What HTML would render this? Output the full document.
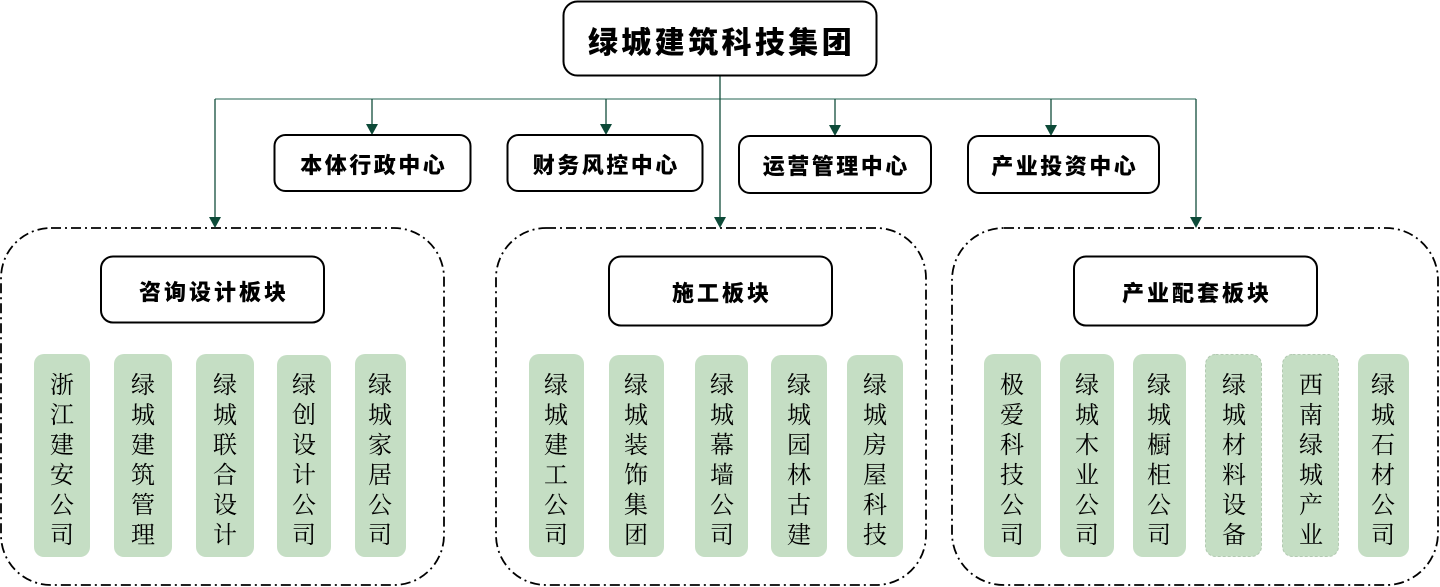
<!DOCTYPE html>
<html><head><meta charset="utf-8">
<style>
html,body{margin:0;padding:0;background:#fff;}
body{width:1440px;height:587px;position:relative;overflow:hidden;}
svg{position:absolute;left:0;top:0;}
.t{position:absolute;display:flex;align-items:center;justify-content:center;font-family:"Liberation Sans","Noto Sans CJK SC",sans-serif;font-weight:900;color:#000;white-space:nowrap;}
.v{position:absolute;width:24px;font-family:"Noto Serif CJK SC","Noto Serif CJK SC","Liberation Serif",serif;font-size:24px;line-height:30px;color:#000;text-align:center;word-break:break-all;}
</style></head><body>
<svg width="1440" height="587" viewBox="0 0 1440 587">
  <g fill="none" stroke="#000" stroke-width="1.8" stroke-dasharray="10 4 2 4">
    <rect x="1" y="228" width="443" height="357" rx="50" ry="50"/>
    <rect x="496" y="228" width="430" height="357" rx="50" ry="50"/>
    <rect x="952" y="228" width="486" height="357" rx="52" ry="52"/>
  </g>
  <g stroke="#134d3c" stroke-width="1.3" fill="none">
    <line x1="215" y1="99" x2="1196" y2="99" stroke="#4f8273"/>
    <line x1="720" y1="76" x2="720" y2="218"/>
    <line x1="215" y1="99" x2="215" y2="218"/>
    <line x1="1196" y1="99" x2="1196" y2="218"/>
    <line x1="372" y1="99" x2="372" y2="125"/>
    <line x1="606" y1="99" x2="606" y2="125"/>
    <line x1="835" y1="99" x2="835" y2="126"/>
    <line x1="1051" y1="99" x2="1051" y2="126"/>
  </g>
  <g fill="#0d4a38">
    <polygon points="366,124 378,124 372,135"/>
    <polygon points="600,124 612,124 606,135"/>
    <polygon points="829,125 841,125 835,136"/>
    <polygon points="1045,125 1057,125 1051,136"/>
    <polygon points="209,217 221,217 215,228"/>
    <polygon points="714,217 726,217 720,228"/>
    <polygon points="1190,217 1202,217 1196,228"/>
  </g>
  <g fill="#fff" stroke="#000" stroke-width="2">
    <rect x="563.5" y="1.5" width="313" height="74" rx="14"/>
    <rect x="274.5" y="135" width="196" height="56" rx="11"/>
    <rect x="507.5" y="135" width="195" height="56" rx="11"/>
    <rect x="739" y="136" width="192" height="57" rx="11"/>
    <rect x="968" y="136" width="191" height="57" rx="11"/>
    <rect x="101" y="256.5" width="223" height="66" rx="12"/>
    <rect x="609" y="256.5" width="223" height="69" rx="12"/>
    <rect x="1074" y="256.5" width="243" height="69" rx="12"/>
  </g>
  <g fill="#c5dec4">
    <rect x="34" y="354" width="56" height="203" rx="10"/>
    <rect x="114" y="354" width="58" height="203" rx="10"/>
    <rect x="196" y="354" width="58" height="203" rx="10"/>
    <rect x="277" y="355" width="54" height="202" rx="10"/>
    <rect x="355" y="354" width="51" height="203" rx="10"/>
    <rect x="529" y="354" width="55" height="203" rx="10"/>
    <rect x="609" y="355" width="55" height="202" rx="10"/>
    <rect x="695" y="355" width="53" height="202" rx="10"/>
    <rect x="771" y="355" width="56" height="202" rx="10"/>
    <rect x="847" y="355" width="56" height="202" rx="10"/>
    <rect x="984" y="354" width="57" height="203" rx="10"/>
    <rect x="1060" y="354" width="54" height="203" rx="10"/>
    <rect x="1133" y="354" width="53" height="203" rx="10"/>
    <rect x="1205.5" y="354.5" width="56" height="202" rx="10" stroke="#b2cab1" stroke-width="1" stroke-dasharray="3 2"/>
    <rect x="1282.5" y="354.5" width="56" height="202" rx="10" stroke="#b2cab1" stroke-width="1" stroke-dasharray="3 2"/>
    <rect x="1358" y="354" width="51" height="203" rx="10"/>
  </g>
</svg>

<div class="t" style="left:563px;top:2px;width:314px;height:76px;font-size:30px;letter-spacing:3.4px;padding-left:3px;box-sizing:border-box;">绿城建筑科技集团</div>

<div class="t" style="left:274px;top:135px;width:197px;height:58px;font-size:22px;letter-spacing:2.5px;padding-left:2.5px;box-sizing:border-box;">本体行政中心</div>
<div class="t" style="left:507px;top:135px;width:196px;height:58px;font-size:22px;letter-spacing:2.5px;padding-left:2.5px;box-sizing:border-box;">财务风控中心</div>
<div class="t" style="left:739px;top:136px;width:192px;height:58px;font-size:22px;letter-spacing:2.5px;padding-left:2.5px;box-sizing:border-box;">运营管理中心</div>
<div class="t" style="left:968px;top:136px;width:191px;height:58px;font-size:22px;letter-spacing:2.5px;padding-left:2.5px;box-sizing:border-box;">产业投资中心</div>

<div class="t" style="left:101px;top:257px;width:223px;height:68px;font-size:22px;letter-spacing:3px;padding-left:3px;box-sizing:border-box;">咨询设计板块</div>
<div class="t" style="left:609px;top:257px;width:223px;height:70px;font-size:22px;letter-spacing:3px;padding-left:3px;box-sizing:border-box;">施工板块</div>
<div class="t" style="left:1074px;top:257px;width:243px;height:70px;font-size:22px;letter-spacing:3px;padding-left:3px;box-sizing:border-box;">产业配套板块</div>

<div class="v" style="left:50px;top:368px;">浙江建安公司</div>
<div class="v" style="left:131px;top:368px;">绿城建筑管理</div>
<div class="v" style="left:213px;top:368px;">绿城联合设计</div>
<div class="v" style="left:292px;top:368px;">绿创设计公司</div>
<div class="v" style="left:368px;top:368px;">绿城家居公司</div>

<div class="v" style="left:544px;top:368px;">绿城建工公司</div>
<div class="v" style="left:624px;top:368px;">绿城装饰集团</div>
<div class="v" style="left:710px;top:368px;">绿城幕墙公司</div>
<div class="v" style="left:787px;top:368px;">绿城园林古建</div>
<div class="v" style="left:863px;top:368px;">绿城房屋科技</div>

<div class="v" style="left:1000px;top:368px;">极爱科技公司</div>
<div class="v" style="left:1075px;top:368px;">绿城木业公司</div>
<div class="v" style="left:1147px;top:368px;">绿城橱柜公司</div>
<div class="v" style="left:1222px;top:368px;">绿城材料设备</div>
<div class="v" style="left:1299px;top:368px;">西南绿城产业</div>
<div class="v" style="left:1371px;top:368px;">绿城石材公司</div>
</body></html>
